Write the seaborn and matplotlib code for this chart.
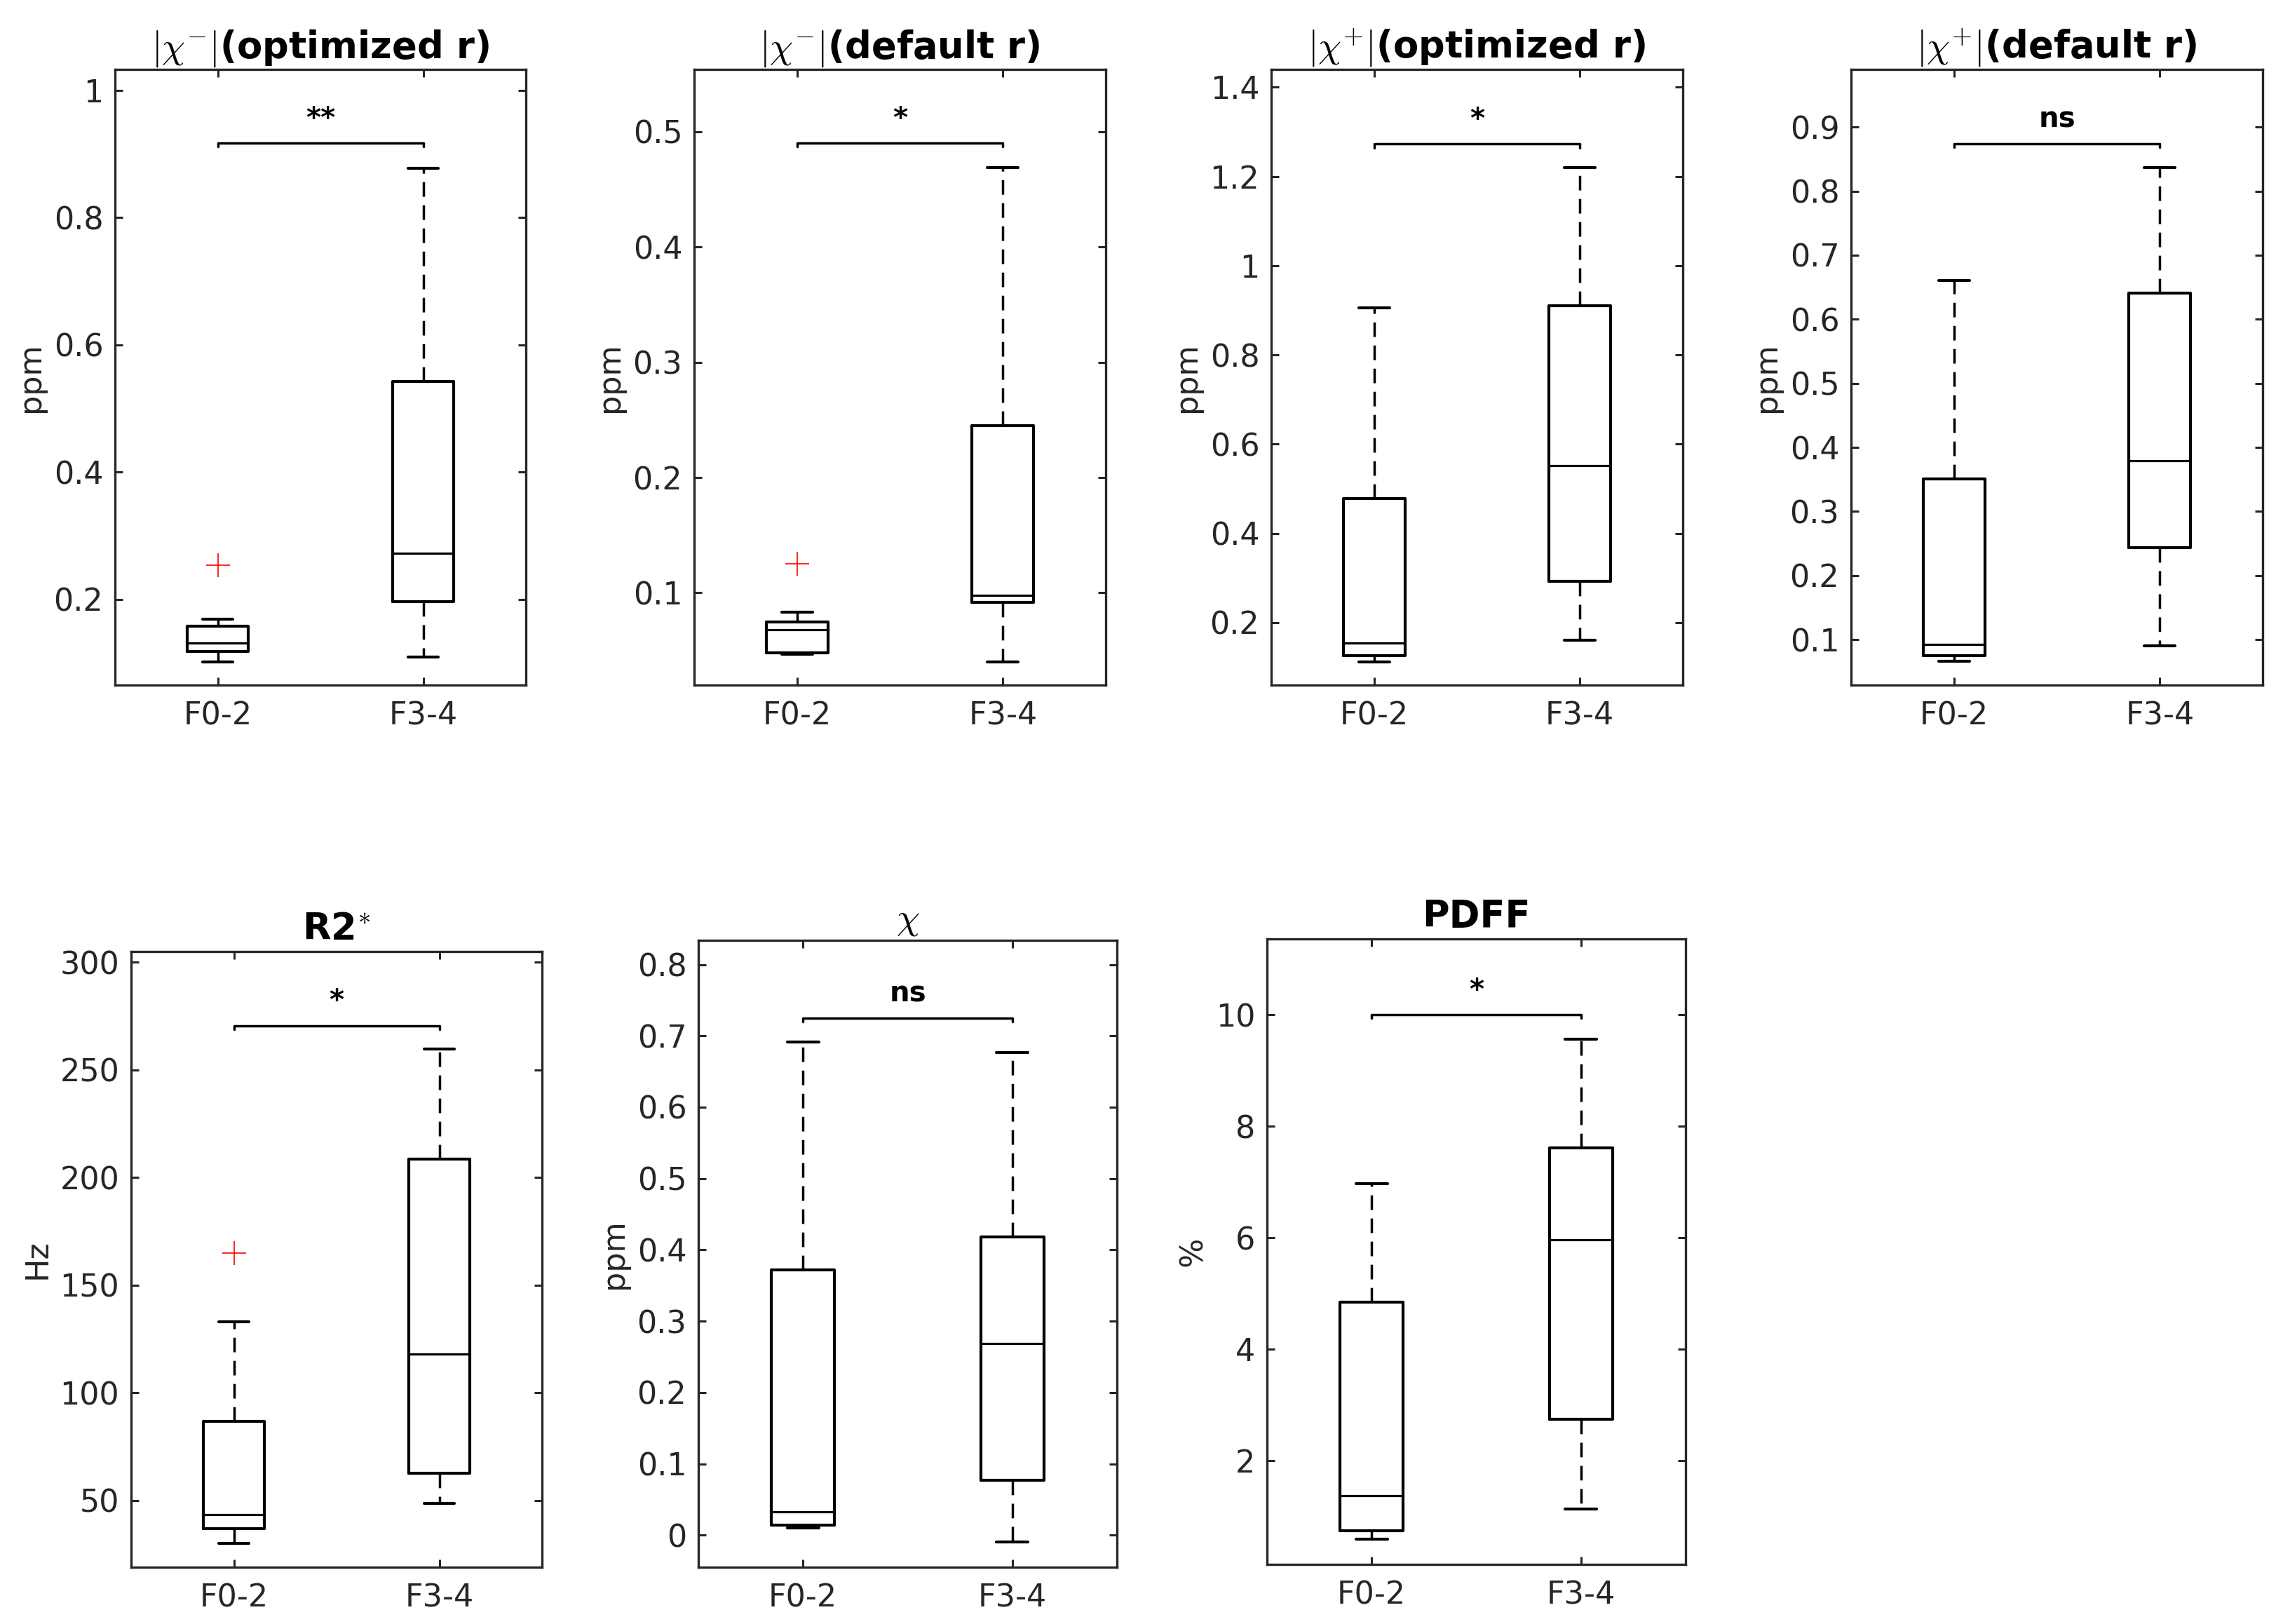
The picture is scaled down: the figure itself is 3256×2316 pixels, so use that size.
import matplotlib
matplotlib.use('Agg')
import matplotlib.pyplot as plt
import seaborn as sns
import numpy as np
from matplotlib.ticker import FuncFormatter

# groups on the x axis
groups = ['F0-2', 'F3-4']

# one entry per panel
titles = [r'$|\chi^{-}|$(optimized r)', r'$|\chi^{-}|$(default r)',
          r'$|\chi^{+}|$(optimized r)', r'$|\chi^{+}|$(default r)',
          r'R2$^{*}$', r'$\chi$', 'PDFF']
title_bold = [True, True, True, True, True, False, True]
ylabels = ['ppm', 'ppm', 'ppm', 'ppm', 'Hz', 'ppm', '%']

# box statistics: [F0-2, F3-4]
whislo = [[0.101, 0.109], [0.047, 0.040], [0.112, 0.160], [0.066, 0.090],
          [30.2, 48.6], [0.010, -0.010], [0.59, 1.13]]
q1 = [[0.118, 0.196], [0.048, 0.092], [0.126, 0.293], [0.075, 0.244],
      [36.8, 62.7], [0.014, 0.077], [0.75, 2.75]]
med = [[0.131, 0.272], [0.068, 0.098], [0.155, 0.552], [0.093, 0.379],
       [43.4, 118.1], [0.033, 0.269], [1.37, 5.97]]
q3 = [[0.158, 0.542], [0.075, 0.245], [0.478, 0.910], [0.351, 0.641],
      [86.6, 208.5], [0.372, 0.418], [4.85, 7.61]]
whishi = [[0.169, 0.878], [0.083, 0.469], [0.906, 1.220], [0.661, 0.837],
          [133.1, 259.8], [0.691, 0.677], [6.97, 9.56]]
outliers = [[[0.254], []], [[0.125], []], [[], []], [[], []],
            [[164.9], []], [[], []], [[], []]]

# significance annotations
sig_labels = ['**', '*', '*', 'ns', '*', 'ns', '*']
sig_y = [0.917, 0.49, 1.273, 0.874, 270.5, 0.725, 10.0]

# axis ranges and ticks
ylims = [(0.065, 1.033), (0.02, 0.554), (0.06, 1.44), (0.029, 0.99),
         (19, 305), (-0.045, 0.834), (0.14, 11.36)]
yticks = [np.arange(0.2, 1.01, 0.2), np.arange(0.1, 0.51, 0.1),
          np.arange(0.2, 1.41, 0.2), np.arange(0.1, 0.91, 0.1),
          np.arange(50, 301, 50), np.arange(0.0, 0.81, 0.1),
          np.arange(2, 10.1, 2)]

# axes rectangles in pixels: left, top, width, bottom
W, H = 3256, 2316
rects_px = [(164, 99, 586, 977), (990, 99, 587, 977), (1813, 99, 587, 977),
            (2640, 99, 587, 977), (187, 1357, 586, 2235),
            (996, 1341, 597, 2235), (1807, 1339, 597, 2231)]

sns.set_style('ticks')
plt.rcParams['font.family'] = ['DejaVu Sans']
plt.rcParams['mathtext.fontset'] = 'cm'

fig = plt.figure(figsize=(W / 100, H / 100), dpi=100)
fig.patch.set_facecolor('white')

tick_col = '#262626'

for i in range(len(titles)):
    l, t, w, b = rects_px[i]
    ax = fig.add_axes([l / W, 1 - b / H, w / W, (b - t) / H])

    stats = []
    for g in range(2):
        stats.append({
            'whislo': whislo[i][g], 'q1': q1[i][g], 'med': med[i][g],
            'q3': q3[i][g], 'whishi': whishi[i][g],
            'fliers': outliers[i][g], 'label': groups[g],
        })

    ax.bxp(stats, positions=[1, 2], widths=0.3, showfliers=True,
           boxprops=dict(color='black', linewidth=3.0, solid_joinstyle='round'),
           medianprops=dict(color='black', linewidth=2.3),
           whiskerprops=dict(color='black', linewidth=2.5, linestyle=(0, (6, 3.5))),
           capprops=dict(color='black', linewidth=3.0),
           flierprops=dict(marker='+', markeredgecolor='red', markersize=25,
                           markeredgewidth=1.2, linestyle='none'))

    ax.set_xlim(0.5, 2.5)
    ax.set_ylim(*ylims[i])
    ax.set_yticks(yticks[i])
    ax.yaxis.set_major_formatter(FuncFormatter(lambda v, p: f'{v:g}'))
    ax.set_xticks([1, 2])
    ax.set_xticklabels(groups)

    ax.tick_params(axis='both', direction='in', length=8, width=2.2,
                   labelsize=32, colors=tick_col, top=True, right=True)
    ax.tick_params(axis='y', pad=12)
    ax.tick_params(axis='x', pad=16)
    for s in ax.spines.values():
        s.set_visible(True)
        s.set_color(tick_col)
        s.set_linewidth(2.4)

    ax.set_ylabel(ylabels[i], fontsize=32, color=tick_col, labelpad=8)
    ax.set_title(titles[i], fontsize=38,
                 fontweight='bold' if title_bold[i] else 'normal',
                 color='black', pad=12)

    # significance bracket
    rng = ylims[i][1] - ylims[i][0]
    d = 0.006 * rng
    y = sig_y[i]
    ax.plot([1, 1, 2, 2], [y - d, y, y, y - d], color='black', linewidth=2.5,
            solid_capstyle='round')
    ax.annotate(sig_labels[i], xy=(1.5, y), xytext=(0, 17),
                textcoords='offset points', ha='center', va='baseline',
                fontsize=29, fontweight='bold', color='black')

fig.savefig('out.png', dpi=100, facecolor='white')
